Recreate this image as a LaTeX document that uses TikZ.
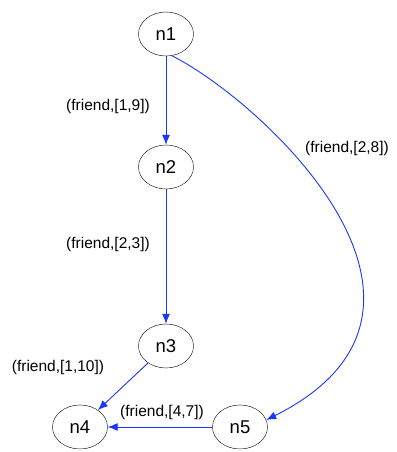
\documentclass[tikz,border=0pt]{standalone}
\usepackage{fontspec}
\setmainfont{Liberation Sans}
\usetikzlibrary{arrows.meta,shapes.geometric}
\definecolor{edgeblue}{RGB}{25,55,250}
\begin{document}
\begin{tikzpicture}[x=1pt,y=1pt,
        state/.style={ellipse,draw=black,minimum width=55pt,minimum height=44pt,inner sep=0pt,font=\fontsize{18.5}{20}\selectfont},
        lbl/.style={font=\fontsize{15.5}{17}\selectfont},
        rel/.style={draw=edgeblue,line width=0.9pt,-{Latex[length=10pt,width=8pt]}}]
    \useasboundingbox (0,0) rectangle (396,452);
    \node[state] (n1) at (166,418) {n1};
    \node[state] (n2) at (166,285) {n2};
    \node[state] (n3) at (166,106) {n3};
    \node[state] (n4) at ( 80, 25) {n4};
    \node[state] (n5) at (240, 25) {n5};

    \node[lbl] (l12) at (108,346) {(friend,[1,9])};
    \node[lbl] (l23) at (108,208) {(friend,[2,3])};
    \node[lbl] (l15) at (347,304) {(friend,[2,8])};
    \node[lbl] (l34) at ( 58, 85) {(friend,[1,10])};
    \node[lbl] (l54) at (162, 40) {(friend,[4,7])};

    \draw[rel] (n1) -- (n2);
    \draw[rel] (n2) -- (n3);
    \draw[rel] (n3) -- (n4);
    \draw[rel] (n5) -- (n4);
    \draw[rel] (n1.-75) .. controls (262,351) and (488,143) .. (n5.15);

\end{tikzpicture}
\end{document}
